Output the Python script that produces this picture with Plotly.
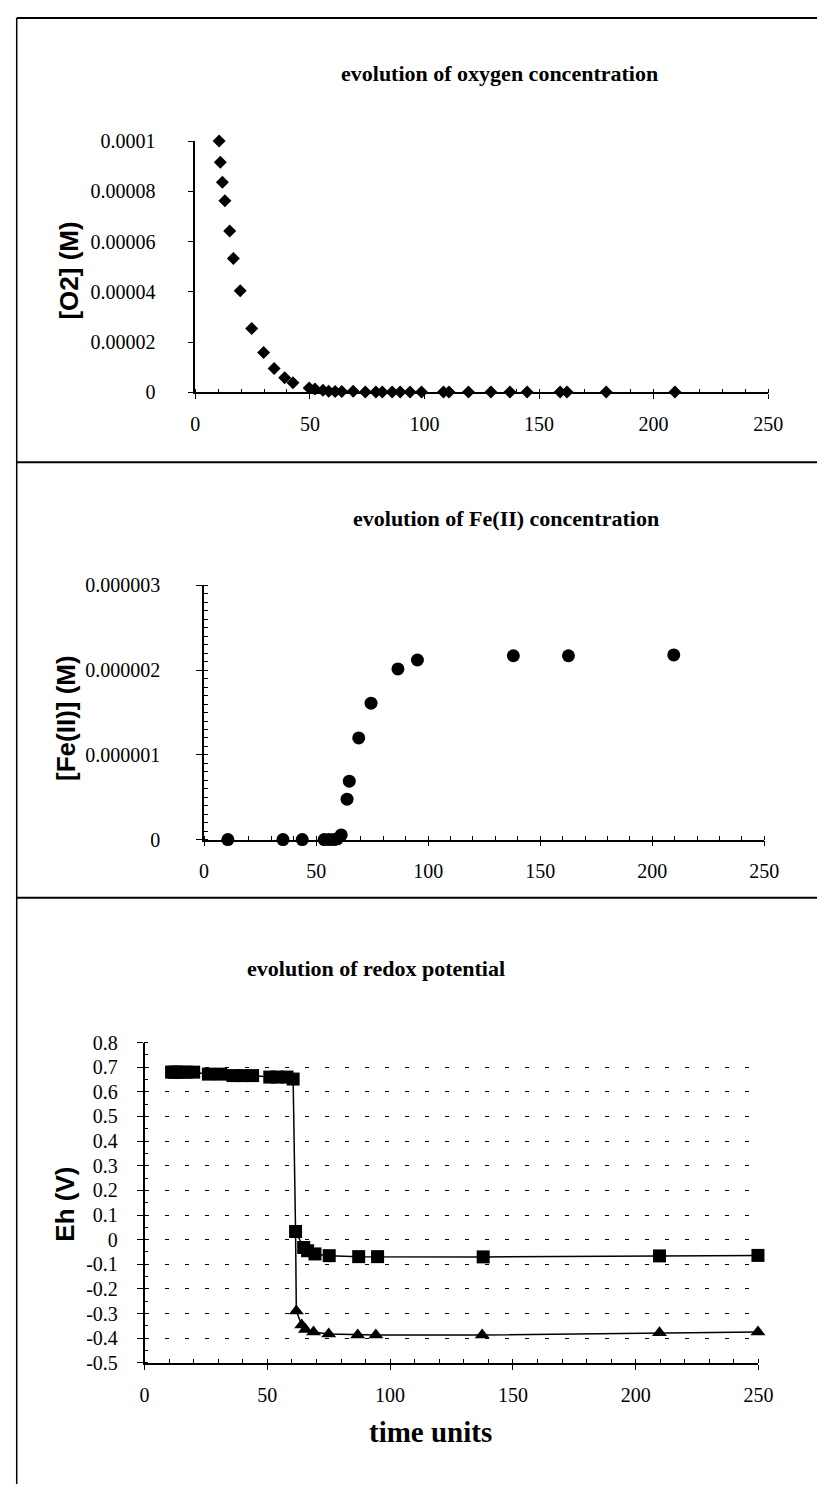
import plotly.graph_objects as go

# ---------------- data ----------------
o2_time = [10.4, 10.9, 11.8, 12.9, 15.0, 16.6, 19.6, 24.6, 29.8, 34.4, 39.0, 42.6,
           49.7, 52.2, 55.7, 58.2, 61.0, 63.9, 68.9, 74.2, 78.8, 81.6, 85.9, 89.4,
           93.7, 98.7, 108.3, 110.7, 119.2, 129.0, 137.3, 144.8, 159.2, 162.2, 179.3, 209.3]
o2_conc = [1.0e-4, 9.16e-5, 8.36e-5, 7.62e-5, 6.42e-5, 5.33e-5, 4.04e-5, 2.54e-5,
           1.58e-5, 9.5e-6, 5.8e-6, 3.8e-6, 1.7e-6, 1.3e-6, 8e-7, 4e-7, 3e-7,
           3e-7, 4e-7, 1e-7, 1e-7, 1e-7, 1e-7, 1e-7, 1e-7, 1e-7, 1e-7, 1e-7, 1e-7,
           1e-7, 1e-7, 1e-7, 1e-7, 1e-7, 1e-7, 1e-7]

fe_time = [10.6, 35.2, 43.8, 53.6, 55.8, 58.0, 59.4, 61.2, 63.8, 64.8, 69.0, 74.5,
           86.5, 95.2, 138.0, 162.6, 209.6]
fe_conc = [0, 0, 0, 0, 0, 0, 1e-8, 5.5e-8, 4.77e-7, 6.9e-7, 1.20e-6, 1.61e-6,
           2.015e-6, 2.12e-6, 2.17e-6, 2.17e-6, 2.18e-6]

eh1_time = [11, 12, 13, 15, 17, 20, 26, 31, 36, 40, 44, 51, 54, 58, 60.5,
            61.5, 64.8, 66.4, 69.4, 75.2, 87.2, 94.9, 137.9, 209.7, 249.8]
eh1_val = [0.68, 0.68, 0.68, 0.68, 0.68, 0.68, 0.672, 0.672, 0.666, 0.666, 0.666,
           0.66, 0.66, 0.66, 0.652,
           0.033, -0.032, -0.045, -0.058, -0.065, -0.069, -0.069, -0.070, -0.066, -0.064]

eh2_time = [61.8, 64.0, 65.5, 68.8, 75.0, 86.8, 94.2, 137.5, 209.7, 249.8]
eh2_val = [-0.290, -0.347, -0.365, -0.375, -0.383, -0.387, -0.387, -0.387,
           -0.378, -0.375]

x_ticks = [0, 50, 100, 150, 200, 250]
o2_ticks = [0, 0.00002, 0.00004, 0.00006, 0.00008, 0.0001]
o2_ticktext = ["0", "0.00002", "0.00004", "0.00006", "0.00008", "0.0001"]
fe_ticks = [0, 0.000001, 0.000002, 0.000003]
fe_ticktext = ["0", "0.000001", "0.000002", "0.000003"]
eh_ticks = [0.8, 0.7, 0.6, 0.5, 0.4, 0.3, 0.2, 0.1, 0, -0.1, -0.2, -0.3, -0.4, -0.5]
eh_ticktext = ["0.8", "0.7", "0.6", "0.5", "0.4", "0.3", "0.2", "0.1", "0",
               "-0.1", "-0.2", "-0.3", "-0.4", "-0.5"]

titles = ["evolution of oxygen concentration", "evolution of Fe(II) concentration",
          "evolution of redox potential"]
ytitles = ["[O2] (M)", "[Fe(II)] (M)", "Eh (V)"]
xtitle = "time units"

# ---------------- layout helpers ----------------
W, H = 832, 1495
def px(x):
    return x / W
def py(y):
    return 1 - y / H

SERIF = "Liberation Serif"
SANS = "Liberation Sans"
tickfont = dict(family=SERIF, size=20, color="black")

fig = go.Figure()
fig.add_trace(go.Scatter(x=o2_time, y=o2_conc, mode="markers", xaxis="x", yaxis="y",
                         marker=dict(symbol="diamond", size=10, color="black"),
                         cliponaxis=False, showlegend=False))
fig.add_trace(go.Scatter(x=fe_time, y=fe_conc, mode="markers", xaxis="x2", yaxis="y2",
                         marker=dict(symbol="circle", size=13, color="black"),
                         cliponaxis=False, showlegend=False))
# connector from the square series drop to the triangle series
fig.add_trace(go.Scatter(x=[eh1_time[15], eh2_time[0]], y=[eh1_val[15], eh2_val[0]],
                         mode="lines", xaxis="x3", yaxis="y3",
                         line=dict(color="black", width=1.5),
                         cliponaxis=False, showlegend=False))
fig.add_trace(go.Scatter(x=eh2_time, y=eh2_val, mode="lines+markers", xaxis="x3", yaxis="y3",
                         line=dict(color="black", width=1.5),
                         marker=dict(symbol="triangle-up", size=13, color="black"),
                         cliponaxis=False, showlegend=False))
fig.add_trace(go.Scatter(x=eh1_time, y=eh1_val, mode="lines+markers", xaxis="x3", yaxis="y3",
                         line=dict(color="black", width=1.5),
                         marker=dict(symbol="square", size=13, color="black"),
                         cliponaxis=False, showlegend=False))

def xaxis(domain, anchor, standoff):
    return dict(domain=domain, anchor=anchor, range=[0, 250], tickvals=x_ticks,
                ticktext=[str(v) for v in x_ticks], tickfont=tickfont,
                showline=True, linecolor="black", linewidth=1.5,
                ticks="outside", ticklen=5, tickwidth=1.2, tickcolor="black",
                minor=dict(dtick=10, tick0=0, ticks="inside", ticklen=4,
                           tickwidth=1, tickcolor="black", showgrid=False),
                showgrid=False, zeroline=False, ticklabelstandoff=standoff,
                fixedrange=True)

def yaxis(domain, anchor, rng, vals, text, standoff, minor=None, grid=False):
    d = dict(domain=domain, anchor=anchor, range=rng, tickvals=vals, ticktext=text,
             tickfont=tickfont, showline=True, linecolor="black", linewidth=1.5,
             ticks="outside", ticklen=6, tickwidth=1.2, tickcolor="black",
             showgrid=grid, zeroline=False, ticklabelstandoff=standoff,
             fixedrange=True)
    if grid:
        d.update(gridcolor="black", gridwidth=1.4, griddash="4px,16px")
    if minor is not None:
        d["minor"] = dict(dtick=minor, ticks="inside", ticklen=4, tickwidth=1,
                          tickcolor="black", showgrid=False)
    return d

layout = dict(
    width=W, height=H, margin=dict(l=0, r=0, t=0, b=0),
    paper_bgcolor="white", plot_bgcolor="white",
    font=dict(family=SERIF, color="black"),
    xaxis=xaxis([px(195), px(782)], "y", 8),
    yaxis=yaxis([py(387), py(132)], "x", [0, 0.0001], o2_ticks, o2_ticktext, 28),
    xaxis2=xaxis([px(204), px(778)], "y2", 8),
    yaxis2=yaxis([py(841), py(583)], "x2", [0, 0.000003], fe_ticks, fe_ticktext, 32,
                 minor=0.0000001),
    xaxis3=xaxis([px(143), px(772)], "y3", 8),
    yaxis3=yaxis([py(1372), py(1047)], "x3", [-0.5, 0.8], eh_ticks, eh_ticktext, 15,
                 minor=0.05, grid=True),
)
fig.update_layout(**layout)

ann = []
title_pos = [(507, 63), (513, 515), (380, 972)]
for t, (x, y) in zip(titles, title_pos):
    ann.append(dict(text=t, x=px(x), y=py(y), xref="paper", yref="paper",
                    xanchor="center", yanchor="middle", showarrow=False,
                    font=dict(family=SERIF, size=22, color="black", weight="bold")))
ytitle_pos = [(66, 263), (63, 717), (62, 1211)]
for t, (x, y) in zip(ytitles, ytitle_pos):
    ann.append(dict(text=t, x=px(x), y=py(y), xref="paper", yref="paper",
                    xanchor="center", yanchor="middle", showarrow=False, textangle=-90,
                    font=dict(family=SANS, size=26, color="black", weight="bold")))
ann.append(dict(text=xtitle, x=px(436), y=py(1442), xref="paper", yref="paper",
                xanchor="center", yanchor="middle", showarrow=False,
                font=dict(family=SERIF, size=29, color="black", weight="bold")))
fig.update_layout(annotations=ann)

shapes = []
for yy in [7, 458, 900]:
    shapes.append(dict(type="line", xref="paper", yref="paper", x0=px(12), x1=1,
                       y0=py(yy), y1=py(yy), line=dict(color="black", width=2)))
shapes.append(dict(type="line", xref="paper", yref="paper", x0=px(12), x1=px(12),
                   y0=py(7), y1=0, line=dict(color="black", width=1.5)))
fig.update_layout(shapes=shapes)

fig.write_html("out.html")
